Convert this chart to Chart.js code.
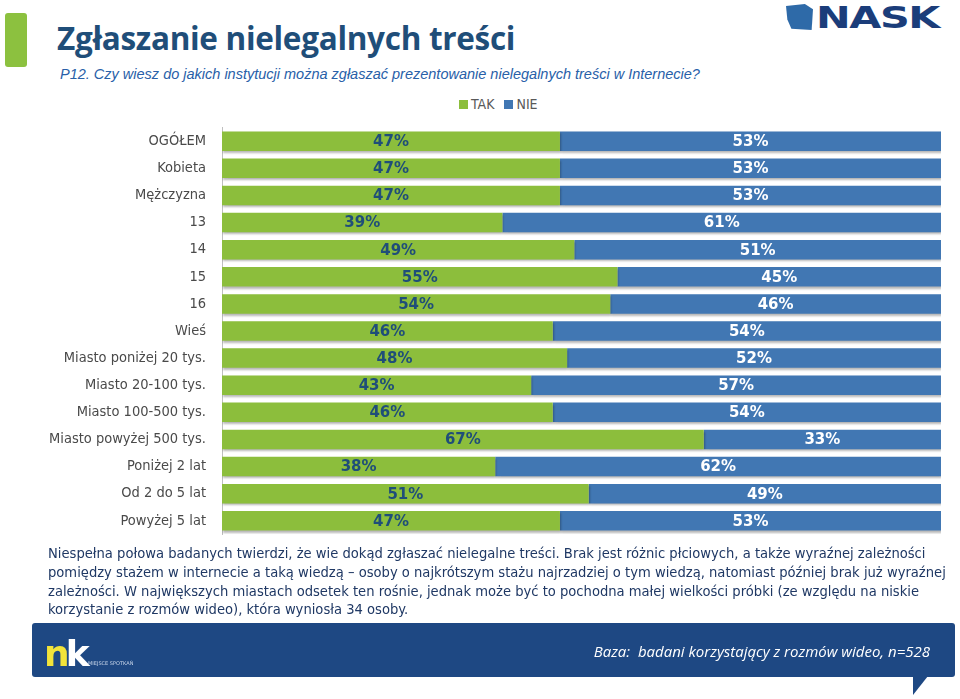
<!DOCTYPE html>
<html>
<head>
<meta charset="utf-8">
<script src="https://cdn.jsdelivr.net/npm/chart.js"></script>
<style>
  body { margin: 0; width: 960px; height: 699px; background: #fff; position: relative; overflow: hidden; font-family: "DejaVu Sans Condensed", "DejaVu Sans", sans-serif; }
  .accent { position: absolute; left: 5px; top: 13px; width: 22px; height: 54px; background: #8CC13F; border-radius: 3px; }
  .title { position: absolute; left: 57px; top: 16px; font: bold 31.5px "Open Sans", sans-serif; color: #1F4E79; letter-spacing: -0.3px; }
  .subtitle { position: absolute; left: 60px; top: 66px; font: italic 14.5px "Liberation Sans Narrow", "Liberation Sans", sans-serif; color: #2860A8; }
  .logo { position: absolute; left: 786px; top: 2px; height: 30px; display: flex; align-items: center; }
  .logo .map { width: 27px; height: 26px; background: #2E6AA8; clip-path: polygon(0 8%, 70% 0, 100% 20%, 95% 100%, 20% 95%, 5% 60%); margin-right: 3px; }
  .logo .txt { font: 900 30px "DejaVu Sans", sans-serif; color: #1B3D7A; letter-spacing: -1px; transform: scaleX(1.38); transform-origin: left; }
  .legend { position: absolute; top: 96px; left: 459px; font: 14px "DejaVu Sans Condensed", sans-serif; color: #595959; display: flex; gap: 10px; }
  .legend span.sw { display: inline-block; width: 9px; height: 9px; margin-right: 3px; }
  #wrap { position: absolute; left: 0; top: 111px; width: 960px; height: 440px; }
  .note { position: absolute; left: 48px; top: 544px; width: 905px; font: 14.6px "DejaVu Sans Condensed", sans-serif; color: #1F3864; line-height: 18.8px; }
  .footer { position: absolute; left: 32px; top: 623px; width: 923px; height: 54px; background: #1E4883; border-radius: 3px; }
  .tail { position: absolute; left: 913px; top: 676px; width: 0; height: 0; border-right: 15px solid transparent; border-top: 19px solid #1E4883; }
  .nk { position: absolute; left: 44px; top: 633px; font: bold 36px "DejaVu Sans", sans-serif; letter-spacing: -4px; }
  .nk .n { color: #F2E33A; } .nk .k { color: #fff; }
  .nk-sub { position: absolute; left: 88px; top: 660px; font: 5px "DejaVu Sans", sans-serif; color: #C9D6EA; }
  .baza { position: absolute; right: 30px; top: 641px; font: italic 15px "Open Sans", sans-serif; color: #fff; }
</style>
</head>
<body>
<div class="accent"></div>
<div class="title">Zgłaszanie nielegalnych treści</div>
<div class="subtitle">P12. Czy wiesz do jakich instytucji można zgłaszać prezentowanie nielegalnych treści w Internecie?</div>
<div class="logo"><div class="map"></div><div class="txt">NASK</div></div>
<div class="legend">
  <div><span class="sw" style="background:#8CBE3C"></span>TAK</div>
  <div><span class="sw" style="background:#4177B3"></span>NIE</div>
</div>
<div id="wrap"><canvas id="chart"></canvas></div>
<div class="note">Niespełna połowa badanych twierdzi, że wie dokąd zgłaszać nielegalne treści. Brak jest różnic płciowych, a także wyraźnej zależności pomiędzy stażem w internecie a taką wiedzą – osoby o najkrótszym stażu najrzadziej o tym wiedzą, natomiast później brak już wyraźnej zależności. W największych miastach odsetek ten rośnie, jednak może być to pochodna małej wielkości próbki (ze względu na niskie korzystanie z rozmów wideo), która wyniosła 34 osoby.</div>
<div class="footer"></div>
<div class="tail"></div>
<div class="nk"><span class="n">n</span><span class="k">k</span></div>
<div class="nk-sub">MIEJSCE SPOTKAŃ</div>
<div class="baza">Baza:&nbsp; badani korzystający z rozmów wideo, n=528</div>

<script>
const categories = ['OGÓŁEM', 'Kobieta', 'Mężczyzna', '13', '14', '15', '16', 'Wieś',
  'Miasto poniżej 20 tys.', 'Miasto 20-100 tys.', 'Miasto 100-500 tys.', 'Miasto powyżej 500 tys.',
  'Poniżej 2 lat', 'Od 2 do 5 lat', 'Powyżej 5 lat'];
const tak = [47, 47, 47, 39, 49, 55, 54, 46, 48, 43, 46, 67, 38, 51, 47];
const nie = [53, 53, 53, 61, 51, 45, 46, 54, 52, 57, 54, 33, 62, 49, 53];

const shadowPlugin = {
  id: 'shadow',
  beforeDatasetsDraw(chart) {
    const ctx = chart.ctx;
    ctx.save();
    ctx.shadowColor = 'rgba(0,0,0,0.28)';
    ctx.shadowBlur = 2;
    ctx.shadowOffsetX = 1;
    ctx.shadowOffsetY = 2;
  },
  afterDatasetsDraw(chart) {
    chart.ctx.restore();
  }
};

const labelPlugin = {
  id: 'barLabels',
  afterDatasetsDraw(chart) {
    const ctx = chart.ctx;
    ctx.save();
    ctx.shadowColor = 'transparent';
    ctx.font = 'bold 15px "DejaVu Sans", sans-serif';
    ctx.textAlign = 'center';
    ctx.textBaseline = 'middle';
    chart.data.datasets.forEach((ds, i) => {
      chart.getDatasetMeta(i).data.forEach((bar, j) => {
        const cx = (bar.x + bar.base) / 2;
        ctx.fillStyle = i === 0 ? '#1F4E79' : '#ffffff';
        ctx.fillText(ds.data[j] + '%', cx, bar.y + 1);
      });
    });
    ctx.restore();
  }
};

new Chart(document.getElementById('chart'), {
  type: 'bar',
  data: {
    labels: categories,
    datasets: [
      { label: 'TAK', data: tak, backgroundColor: '#8CBE3C' },
      { label: 'NIE', data: nie, backgroundColor: '#4177B3' }
    ]
  },
  options: {
    indexAxis: 'y',
    responsive: true,
    maintainAspectRatio: false,
    animation: false,
    barPercentage: 0.72,
    categoryPercentage: 1,
    layout: { padding: { top: 6, bottom: 7, right: 19, left: 0 } },
    plugins: { legend: { display: false }, tooltip: { enabled: false } },
    scales: {
      x: { stacked: true, min: 0, max: 100, display: false },
      y: {
        stacked: true,
        grid: { display: false },
        border: { display: true, color: '#BFBFBF', width: 1 },
        ticks: { color: '#4A4A4A', font: { family: '"DejaVu Sans Condensed", "DejaVu Sans", sans-serif', size: 14.5 }, padding: 8 },
        afterFit(scale) { scale.width = 222; }
      }
    }
  },
  plugins: [shadowPlugin, labelPlugin]
});
</script>
</body>
</html>
